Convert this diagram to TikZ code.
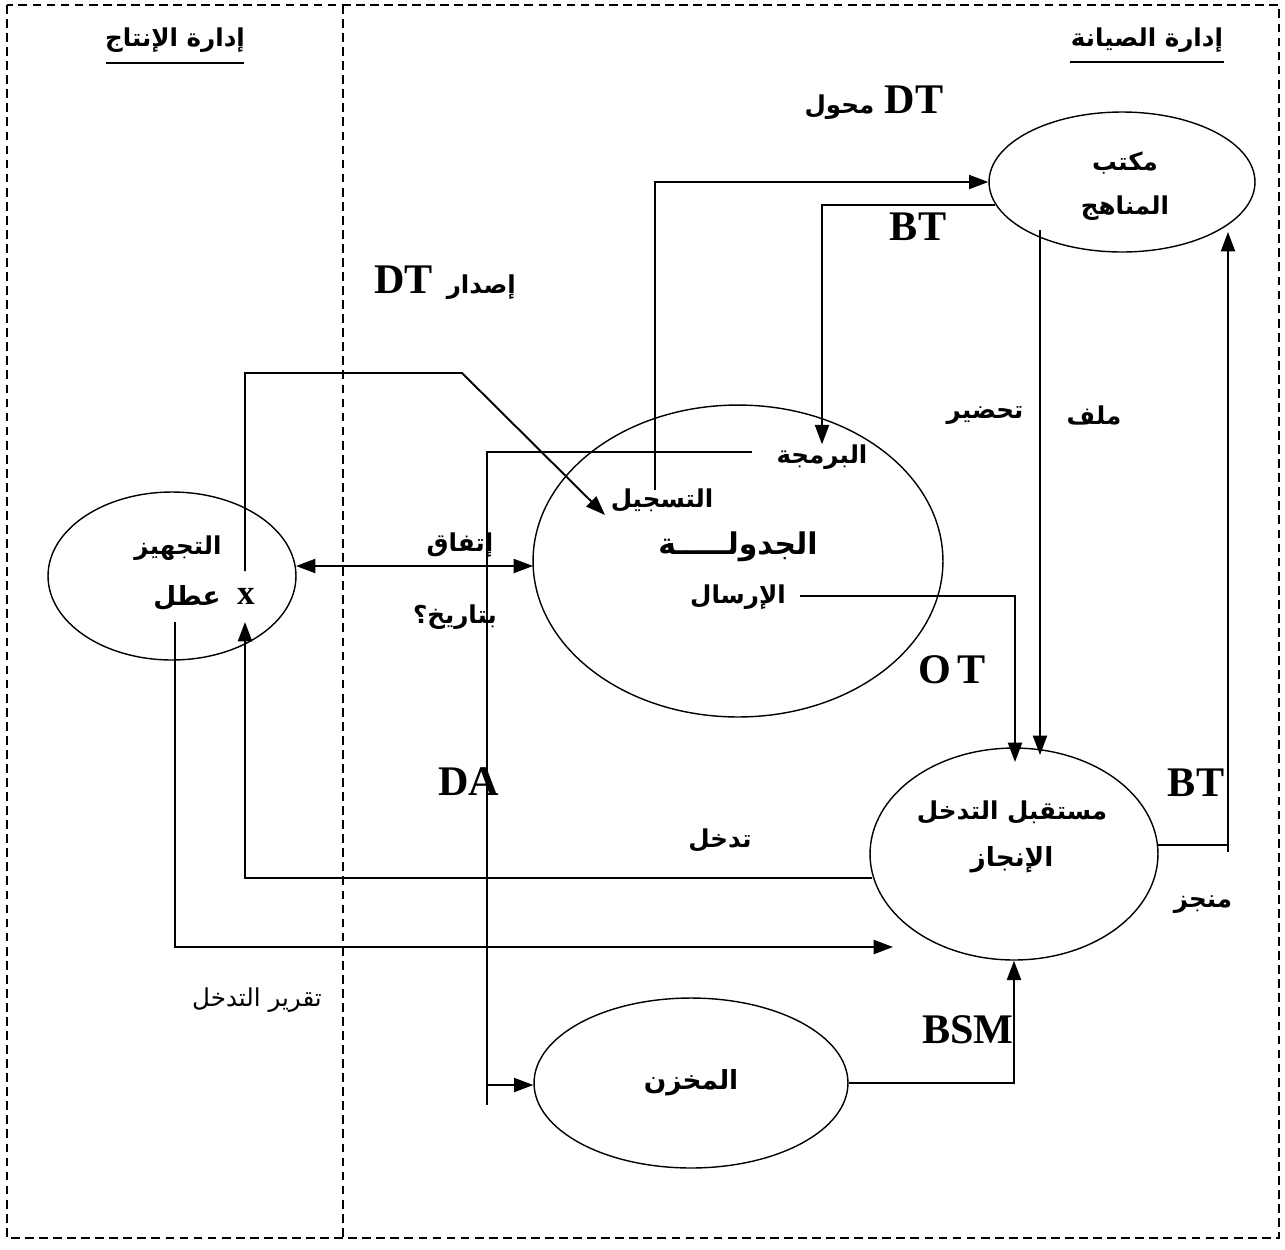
\documentclass[tikz,border=0pt]{standalone}
\usepackage{fontspec}
\setmainfont{Liberation Serif}
\newfontfamily\arb[Script=Arabic]{DejaVu Sans}
\TeXXeTstate=1
\usetikzlibrary{arrows.meta,shapes.geometric}
\newcommand{\AR}[1]{{\arb\bfseries\beginR #1\endR}}
\newcommand{\ARn}[1]{{\arb\beginR #1\endR}}
\tikzset{
  frame/.style={dashed, dash pattern=on 5pt off 3pt, line width=1.2pt},
  proc/.style={draw, ellipse, line width=0.8pt, inner sep=0pt},
  conn/.style={line width=1.1pt},
  arr/.style={conn, -{Triangle[length=11pt,width=8pt]}},
  arrb/.style={conn, {Triangle[length=11pt,width=8pt]}-{Triangle[length=11pt,width=8pt]}},
  lab/.style={inner sep=0pt, font=\fontsize{14}{17}\selectfont},
  lat/.style={inner sep=0pt, font=\bfseries\fontsize{24}{28}\selectfont},
}
\begin{document}
\begin{tikzpicture}[x=0.02cm,y=-0.02cm]
\useasboundingbox (0,0) rectangle (1285,1249);
% frame
\draw[frame] (7,5) rectangle (1279,1238);
\draw[frame] (343,5) -- (343,1238);
% headers
\node[lab] (h1) at (175,40) {\AR{إدارة الإنتاج}};
\draw[line width=1.1pt] (106,63) -- (244,63);
\node[lab] (h2) at (1147,40) {\AR{إدارة الصيانة}};
\draw[line width=1.1pt] (1070,62) -- (1224,62);
% ellipses
\node[proc, minimum width=5.32cm, minimum height=2.8cm] (manahij) at (1122,182) {};
\node[proc, minimum width=8.2cm, minimum height=6.24cm] (jadwala) at (738,561) {};
\node[proc, minimum width=4.96cm, minimum height=3.36cm] (tajhiz) at (172,576) {};
\node[proc, minimum width=5.76cm, minimum height=4.24cm] (injaz) at (1014,854) {};
\node[proc, minimum width=6.28cm, minimum height=3.4cm] (makhzan) at (691,1083) {};
% texts
\node[lab] (mk1) at (1125,163) {\AR{مكتب}};
\node[lab] (mk2) at (1125,208) {\AR{المناهج}};
\node[inner sep=0pt] (dtm) at (874,103) {\AR{\fontsize{14}{17}\selectfont محول}\hspace{6pt}\textbf{\fontsize{24}{28}\selectfont DT}};
\node[inner sep=0pt] (dti) at (445,283) {\textbf{\fontsize{24}{28}\selectfont DT}\hspace{8pt}\AR{\fontsize{14}{17}\selectfont إصدار}};
\node[lat] (bt1) at (918,227) {BT};
\node[lab] (milaf) at (1094,415) {\AR{ملف}};
\node[lab] (tahdir) at (985,415) {\AR{تحضير}};
\node[lab] (barmaja) at (822,457) {\AR{البرمجة}};
\node[lab] (tasjil) at (662,500) {\AR{التسجيل}};
\node[lab, font=\fontsize{17}{20}\selectfont] (jadw) at (738,547) {\AR{الجدولـــــة}};
\node[lab] (irsal) at (738,597) {\AR{الإرسال}};
\node[lab] (tj1) at (178,548) {\AR{التجهيز}};
\node[lab, font=\fontsize{15}{18}\selectfont] (tj2) at (187,598) {\AR{عطل}};
\node[inner sep=0pt, font=\bfseries\fontsize{20}{24}\selectfont] (xl) at (246,596) {x};
\node[lab] (ittifaq) at (460,545) {\AR{إتفاق}};
\node[lab] (tarikh) at (455,617) {\AR{بتاريخ؟}};
\node[lat] (ot) at (952,670) {O\hspace{4pt}T};
\node[lat] (da) at (469,782) {DA};
\node[lat] (bt2) at (1196,783) {BT};
\node[lab] (tadakhul) at (720,840) {\AR{تدخل}};
\node[lab] (in1) at (1012,812) {\AR{مستقبل التدخل}};
\node[lab, font=\fontsize{15}{18}\selectfont] (in2) at (1012,860) {\AR{الإنجاز}};
\node[lab] (munjaz) at (1203,905) {\AR{منجز}};
\node[lab] (taqrir) at (257,1000) {\ARn{تقرير التدخل}};
\node[lat] (bsm) at (968,1030) {BSM};
\node[lab, font=\fontsize{15}{18}\selectfont] (mkh) at (691,1083) {\AR{المخزن}};
% coordinates
\coordinate (t1) at (655,490);
\coordinate (b1) at (995,205);
\coordinate (p1) at (752,452);
\coordinate (p2) at (487,1105);
\coordinate (p3) at (487,1085);
\coordinate (x1) at (245,571);
\coordinate (k1) at (462,373);
\coordinate (tip1) at (605,515);
\coordinate (a1) at (296,566);
\coordinate (a2) at (533,566);
\coordinate (i1) at (872,878);
\coordinate (x2) at (245,622);
\coordinate (r1) at (175,622);
\coordinate (r2) at (893,947);
\coordinate (s1) at (800,596);
\coordinate (s2) at (1015,762);
\coordinate (m1) at (1040,230);
\coordinate (m2) at (1040,755);
\coordinate (e1) at (1158,845);
\coordinate (e2) at (1228,852);
\coordinate (e3) at (1228,232);
% connectors
\draw[arr] (t1) |- (manahij);
\draw[arr] (b1) -| (barmaja.north);
\draw[conn] (p1) -| (p2);
\draw[arr] (p3) -- (makhzan.west |- p3);
\draw[arr] (x1) |- (k1) -- (tip1);
\draw[arrb] (a1) -- (a2);
\draw[arr] (i1) -| (x2);
\draw[arr] (r1) |- (r2);
\draw[arr] (s1) -| (s2);
\draw[arr] (m1) -- (m2);
\draw[conn] (e1) -- (e1 -| e2);
\draw[arr] (e2) -- (e3);
\draw[arr] (makhzan.east) -| (injaz.south);
\end{tikzpicture}
\end{document}
